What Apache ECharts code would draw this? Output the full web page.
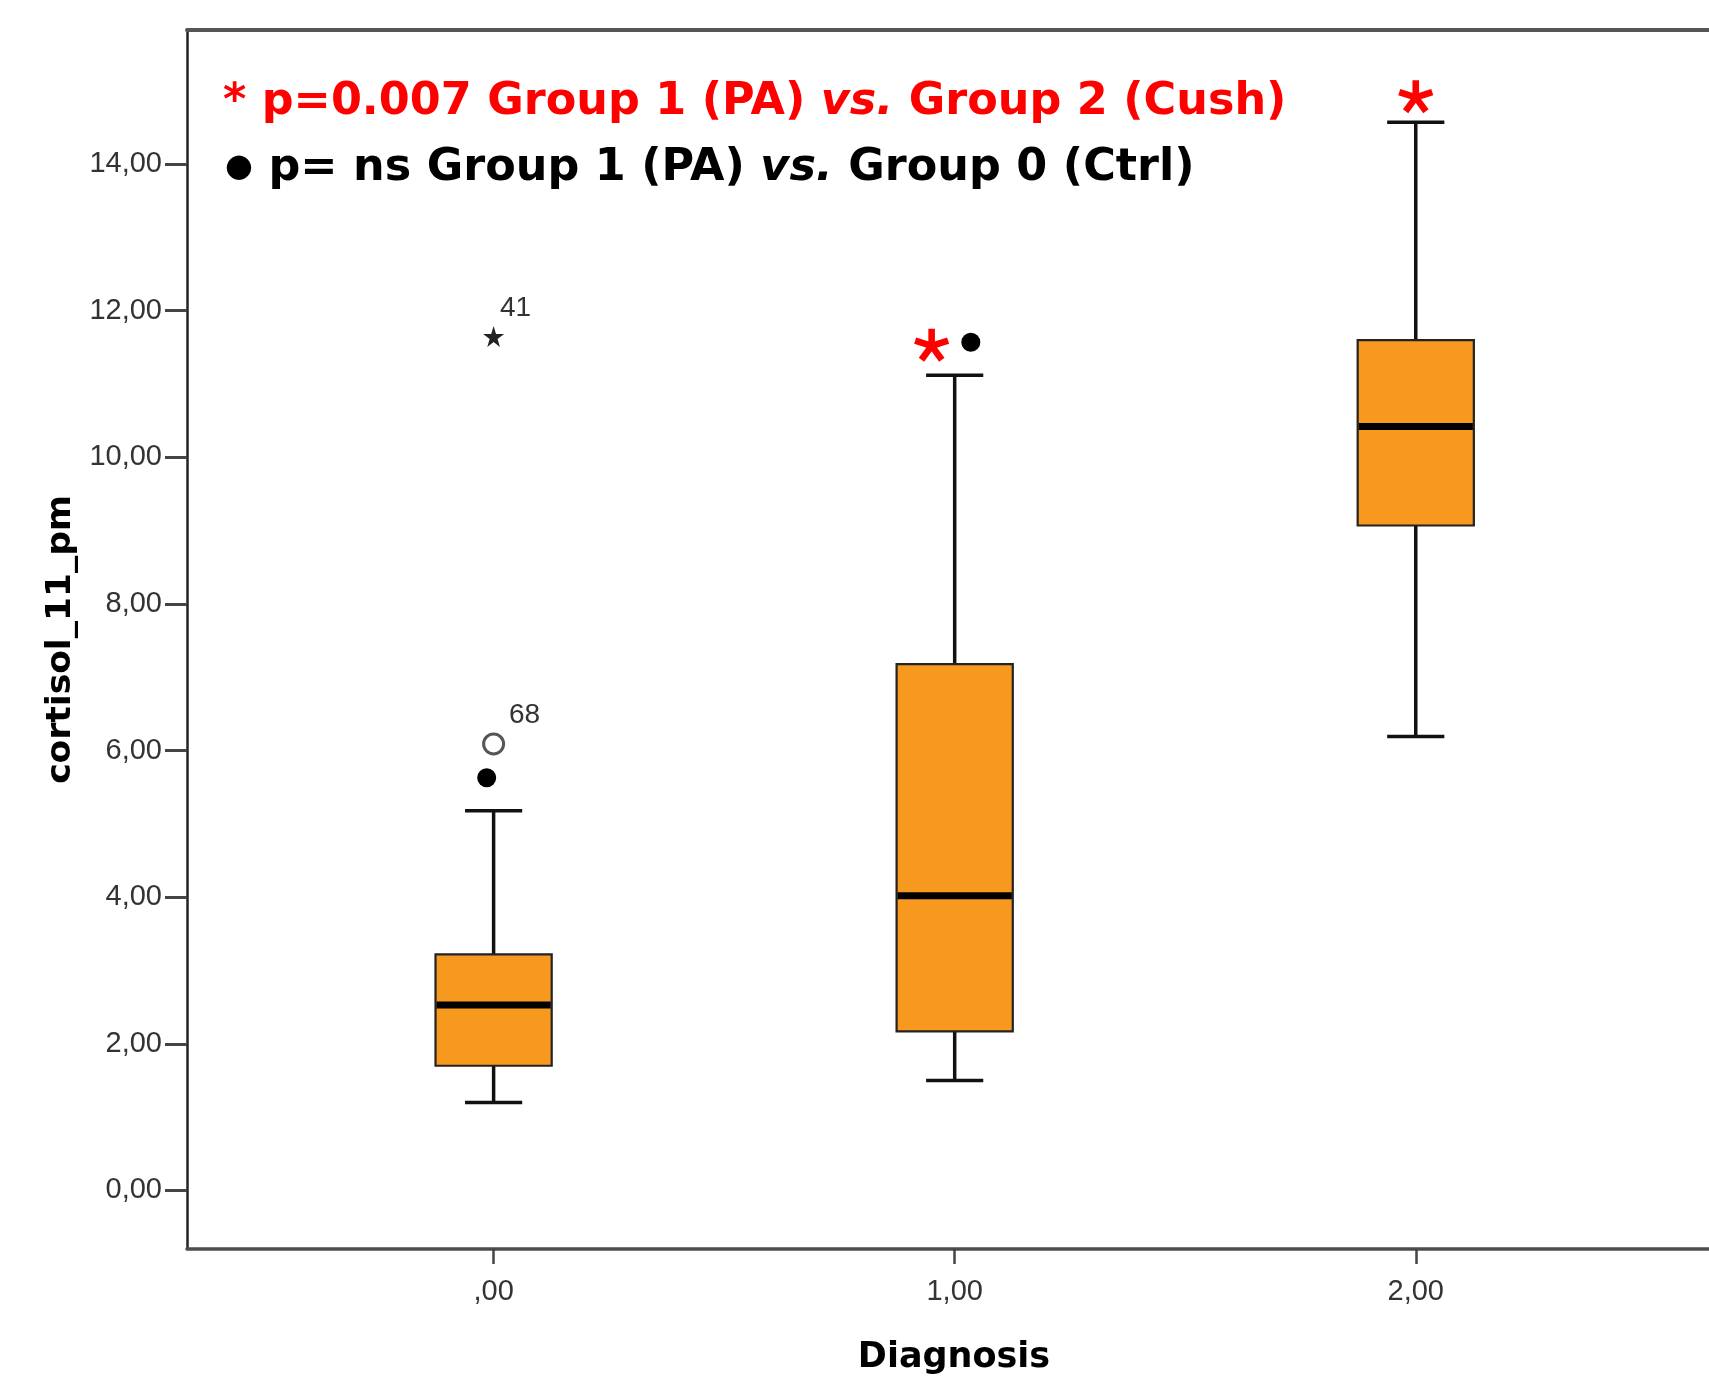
<!DOCTYPE html>
<html>
<head>
<meta charset="utf-8">
<title>cortisol_11_pm by Diagnosis</title>
<script src="https://cdn.jsdelivr.net/npm/echarts@6/dist/echarts.min.js"></script>
<style>
  html, body { margin: 0; padding: 0; background: #fff; }
  #chart { width: 1709px; height: 1380px; }
</style>
</head>
<body>
<div id="chart"></div>
<script>
// diagnosis groups (x positions) and their tick labels
const groups = [0, 1, 2]
const xTickLabels = [',00', '1,00', '2,00']

const yTicks = [0, 2, 4, 6, 8, 10, 12, 14]
const yTickLabels = ['0,00', '2,00', '4,00', '6,00', '8,00', '10,00', '12,00', '14,00']

// box statistics per group
const whiskerLow = [1.20, 1.50, 6.19]
const q1 = [1.70, 2.17, 9.07]
const median = [2.53, 4.02, 10.42]
const q3 = [3.22, 7.18, 11.60]
const whiskerHigh = [5.18, 11.12, 14.57]

// outliers: [x, value, case id]
const outlierCircle = [[0, 6.09, '68']]
const outlierStar = [[0, 11.65, '41']]

// significance markers
const sigDots = [[-0.015, 5.63], [1.035, 11.57]]
const sigAsterisks = [[0.95, 11.53], [2.0, 14.92]]

const BOX_WIDTH = 0.252
const CAP_WIDTH = 0.124

const boxData = groups.map((g, i) => [g, whiskerLow[i], q1[i], median[i], q3[i], whiskerHigh[i]])

// 5 armed asterisk as a filled path
const asteriskPath = () => {
  const w = 19, L = 100, c = 110
  let d = ''
  for (let k = 0; k < 5; k++) {
    const t = k * 72 * Math.PI / 180
    const dx = Math.sin(t), dy = -Math.cos(t)
    const px = Math.cos(t), py = Math.sin(t)
    const pts = [
      [c + px * w, c + py * w],
      [c + px * w + dx * L, c + py * w + dy * L],
      [c - px * w + dx * L, c - py * w + dy * L],
      [c - px * w, c - py * w]
    ]
    d += 'M' + pts.map(p => p[0].toFixed(1) + ',' + p[1].toFixed(1)).join(' L') + ' Z '
  }
  return 'path://' + d
}

const starPath = 'path://M50,0 L61,35 L98,35 L68,57 L79,91 L50,70 L21,91 L32,57 L2,35 L39,35 Z'

const renderBox = (params, api) => {
  const x = api.value(0)
  const lo = api.coord([x, api.value(1)])
  const b1 = api.coord([x, api.value(2)])
  const md = api.coord([x, api.value(3)])
  const b3 = api.coord([x, api.value(4)])
  const hi = api.coord([x, api.value(5)])
  const bw = api.size([BOX_WIDTH, 0])[0]
  const cw = api.size([CAP_WIDTH, 0])[0]
  const cx = lo[0]
  const stroke = { stroke: '#111', lineWidth: 3.5 }
  return {
    type: 'group',
    children: [
      { type: 'line', shape: { x1: cx, y1: hi[1], x2: cx, y2: b3[1] }, style: stroke },
      { type: 'line', shape: { x1: cx, y1: b1[1], x2: cx, y2: lo[1] }, style: stroke },
      { type: 'line', shape: { x1: cx - cw / 2, y1: hi[1], x2: cx + cw / 2, y2: hi[1] }, style: stroke },
      { type: 'line', shape: { x1: cx - cw / 2, y1: lo[1], x2: cx + cw / 2, y2: lo[1] }, style: stroke },
      {
        type: 'rect',
        shape: { x: cx - bw / 2, y: b3[1], width: bw, height: b1[1] - b3[1] },
        style: { fill: '#F7991F', stroke: '#222', lineWidth: 2.2 }
      },
      {
        type: 'line',
        shape: { x1: cx - bw / 2 + 1, y1: md[1], x2: cx + bw / 2 - 1, y2: md[1] },
        style: { stroke: '#000', lineWidth: 7 }
      }
    ]
  }
}

const tickFont = {
  fontFamily: 'Liberation Sans, Arial, sans-serif',
  fontSize: 29,
  color: '#333'
}

const option = {
  backgroundColor: '#fff',
  animation: false,
  grid: { left: 187, right: 0, top: 30, bottom: 129 },
  xAxis: [{
    type: 'value',
    min: -0.665,
    max: 2.636,
    position: 'bottom',
    axisLine: { show: true, onZero: false, lineStyle: { color: '#4d4d4d', width: 3.5 } },
    axisTick: { show: true, customValues: groups, length: 15, lineStyle: { color: '#444', width: 2.5 } },
    axisLabel: {
      show: true,
      customValues: groups,
      margin: 28,
      formatter: v => xTickLabels[groups.indexOf(v)],
      ...tickFont
    },
    splitLine: { show: false },
    name: 'Diagnosis',
    nameLocation: 'middle',
    nameGap: 91,
    nameTextStyle: { fontFamily: 'DejaVu Sans', fontWeight: 'bold', fontSize: 35, color: '#000', padding: [0, 0, 0, 12] }
  }, {
    type: 'value',
    min: -0.665,
    max: 2.636,
    position: 'top',
    axisLine: { show: true, onZero: false, lineStyle: { color: '#555', width: 4 } },
    axisTick: { show: false },
    axisLabel: { show: false },
    splitLine: { show: false }
  }],
  yAxis: {
    type: 'value',
    min: -0.8,
    max: 15.83,
    axisLine: { show: true, onZero: false, lineStyle: { color: '#222', width: 2.5 } },
    axisTick: { show: true, customValues: yTicks, length: 22, lineStyle: { color: '#444', width: 3 } },
    axisLabel: {
      show: true,
      customValues: yTicks,
      margin: 25,
      formatter: v => yTickLabels[yTicks.indexOf(v)],
      ...tickFont
    },
    splitLine: { show: false },
    name: 'cortisol_11_pm',
    nameLocation: 'middle',
    nameRotate: 90,
    nameGap: 108,
    nameTextStyle: { fontFamily: 'DejaVu Sans', fontWeight: 'bold', fontSize: 34.5, color: '#000' }
  },
  series: [{
    type: 'custom',
    renderItem: renderBox,
    encode: { x: 0, y: [1, 2, 3, 4, 5] },
    data: boxData,
    z: 2
  }, {
    type: 'scatter',
    symbol: 'circle',
    symbolSize: 20,
    itemStyle: { color: '#fff', borderColor: '#555', borderWidth: 3, opacity: 1 },
    label: {
      show: true,
      position: 'inside',
      offset: [31, -29],
      formatter: p => p.data[2],
      fontFamily: 'Liberation Sans, Arial, sans-serif',
      fontSize: 28,
      color: '#333'
    },
    data: outlierCircle,
    z: 3
  }, {
    type: 'scatter',
    symbol: starPath,
    symbolSize: 21,
    itemStyle: { color: '#222', opacity: 1 },
    label: {
      show: true,
      position: 'inside',
      offset: [22, -28],
      formatter: p => p.data[2],
      fontFamily: 'Liberation Sans, Arial, sans-serif',
      fontSize: 28,
      color: '#333'
    },
    data: outlierStar,
    z: 3
  }, {
    type: 'scatter',
    symbol: 'circle',
    symbolSize: 19,
    itemStyle: { color: '#000', opacity: 1 },
    data: sigDots,
    z: 3
  }, {
    type: 'scatter',
    symbol: asteriskPath(),
    symbolSize: [35, 33],
    itemStyle: { color: '#FF0000', opacity: 1 },
    data: sigAsterisks,
    z: 3
  }],
  graphic: [{
    type: 'text',
    style: {
      x: 223,
      y: 102,
      verticalAlign: 'middle',
      align: 'left',
      text: '{a|* p=0.007 Group 1 (PA) }{b|vs.}{a| Group 2 (Cush)}',
      rich: {
        a: { fontFamily: 'DejaVu Sans', fontWeight: 'bold', fontSize: 44.5, fill: '#FF0000' },
        b: { fontFamily: 'DejaVu Sans', fontWeight: 'bold', fontStyle: 'italic', fontSize: 44.5, fill: '#FF0000' }
      }
    }
  }, {
    type: 'text',
    style: {
      x: 225,
      y: 168,
      verticalAlign: 'middle',
      align: 'left',
      text: '{d|●}{a| p= ns Group 1 (PA) }{b|vs.}{a| Group 0 (Ctrl)}',
      rich: {
        d: { fontFamily: 'DejaVu Sans', fontWeight: 'bold', fontSize: 32, fill: '#000' },
        a: { fontFamily: 'DejaVu Sans', fontWeight: 'bold', fontSize: 44.5, fill: '#000' },
        b: { fontFamily: 'DejaVu Sans', fontWeight: 'bold', fontStyle: 'italic', fontSize: 44.5, fill: '#000' }
      }
    }
  }]
}

const chart = echarts.init(document.getElementById('chart'))
chart.setOption(option)
</script>
</body>
</html>
